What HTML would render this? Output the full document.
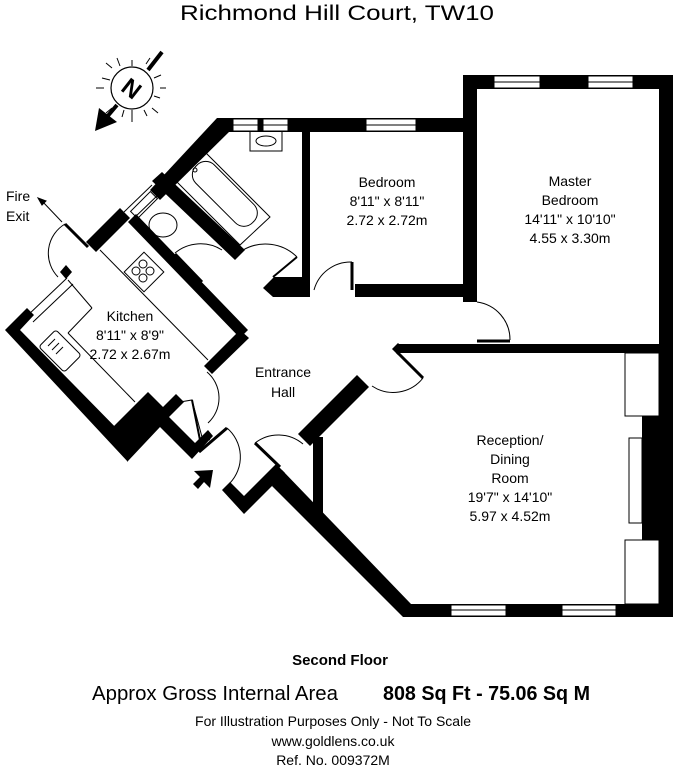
<!DOCTYPE html>
<html><head><meta charset="utf-8"><style>
html,body{margin:0;padding:0;background:#fff;}
svg{display:block;}
text{font-family:"Liberation Sans",Arial,sans-serif;fill:#000;}
</style></head><body>
<svg width="673" height="766" viewBox="0 0 673 766" xmlns="http://www.w3.org/2000/svg">
<rect width="673" height="766" fill="#fff"/>
<text x="337" y="20" font-size="21" text-anchor="middle" textLength="314" lengthAdjust="spacingAndGlyphs">Richmond Hill Court, TW10</text>

<!-- compass -->
<g stroke="#000" fill="none" stroke-width="1.2">
<circle cx="132" cy="88" r="21"/>
<line x1="162" y1="52" x2="148" y2="70" stroke-width="4"/>
<line x1="117" y1="105" x2="106" y2="118" stroke-width="4"/>
<g stroke-width="1">
<line x1="132" y1="60" x2="132" y2="66"/><line x1="132" y1="110" x2="132" y2="122"/>
<line x1="104" y1="88" x2="96" y2="88"/><line x1="160" y1="88" x2="166" y2="88"/>
<line x1="112" y1="68" x2="106" y2="63"/><line x1="152" y1="108" x2="158" y2="113"/>
<line x1="112" y1="108" x2="106" y2="113"/><line x1="146" y1="64" x2="150" y2="58"/>
<line x1="120" y1="66" x2="117" y2="58"/><line x1="144" y1="110" x2="147" y2="116"/>
<line x1="110" y1="80" x2="102" y2="78"/><line x1="154" y1="96" x2="160" y2="98"/>
<line x1="154" y1="78" x2="161" y2="75"/><line x1="124" y1="110" x2="122" y2="117"/>
</g>
</g>
<polygon points="95,131 99,108 117,122" fill="#000"/>
<text x="132" y="97" font-size="24" text-anchor="middle" transform="rotate(38 132 88)" font-weight="bold">N</text>

<!-- walls -->
<g fill="#000">
<rect x="463" y="75" width="210" height="14"/>
<rect x="659" y="75" width="14" height="542"/>
<rect x="463" y="75" width="14" height="227"/>
<rect x="217" y="118" width="253" height="14"/>
<rect x="302" y="118" width="8" height="172"/>
<rect x="355" y="284" width="115" height="13"/>
<rect x="398" y="344" width="265" height="9"/>
<polygon points="392,349 398,343 404,349 398,355"/>
<rect x="403" y="604" width="270" height="13"/>
<rect x="642" y="416" width="31" height="124"/>
<rect x="313" y="437" width="10" height="78"/>
<polygon points="272,486 282,470 411,604 411,617 403,617"/>
<polygon points="357,375 369,387 310,446 298,434"/>
<polygon points="222,490 230,482 244,496 276,464 285,473 244,514"/>
<polygon points="217,118 230,118 230,131 160,200 150,190"/>
<polygon points="152,181 162,172 245,250 235,260"/>
<polygon points="263,288 274,277 310,277 310,297 273,297"/>
<polygon points="120,208 130,218 96,252 86,242"/>
<polygon points="128,222 136,214 248,330 240,338"/>
<polygon points="240,330 249,338 212,374 204,366"/>
<polygon points="5,330 27,308 34,315 20,330 128,440 128,462"/>
<polygon points="60,272 66,265 72,272 66,279"/>
<polygon points="113,427 148,392 163,407 176,394 184,402 169,417 195,443 208,430 213,436 192,459 160,427 128,461"/>
</g>

<!-- windows -->
<g fill="#fff" stroke="#000" stroke-width="1">
<rect x="494" y="76" width="46" height="12"/><line x1="494" y1="82" x2="540" y2="82"/>
<rect x="588" y="76" width="45" height="12"/><line x1="588" y1="82" x2="633" y2="82"/>
<rect x="366" y="119" width="50" height="12"/><line x1="366" y1="125" x2="416" y2="125"/>
<rect x="233" y="119" width="25" height="12"/><line x1="233" y1="125" x2="258" y2="125"/>
<rect x="263" y="119" width="25" height="12"/><line x1="263" y1="125" x2="288" y2="125"/>
<rect x="451" y="605" width="55" height="11"/><line x1="451" y1="610" x2="506" y2="610"/>
<rect x="562" y="605" width="54" height="11"/><line x1="562" y1="610" x2="616" y2="610"/>
<rect x="625" y="353" width="34" height="63"/>
<rect x="629" y="438" width="13" height="85"/>
<rect x="625" y="540" width="34" height="64"/>
</g>
<g stroke="#000" stroke-width="1" fill="none">
<line x1="152" y1="185" x2="124" y2="212"/><line x1="160" y1="193" x2="132" y2="220"/>
<line x1="67" y1="278" x2="27" y2="316"/><line x1="73" y1="284" x2="33" y2="322"/>
<polygon points="203,150 270,217 240,245 173,178"/>
<rect x="186" y="178" width="80" height="26" rx="12" transform="rotate(45 222 191)"/>
<circle cx="195" cy="170" r="2"/>
<rect x="250" y="131" width="32" height="20"/>
<ellipse cx="266" cy="141" rx="10" ry="5"/>
<rect x="130" y="200" width="28" height="10" transform="rotate(-45 144 205)"/>
<ellipse cx="163" cy="225" rx="14" ry="12"/>
<rect x="130" y="258" width="28" height="28" transform="rotate(45 144 272)"/>
<circle cx="143" cy="264" r="4"/><circle cx="136" cy="271" r="4"/><circle cx="150" cy="271" r="4"/><circle cx="143" cy="278" r="4"/>
<!-- kitchen counters -->
<line x1="100" y1="250" x2="208" y2="360"/>
<line x1="68" y1="280" x2="92" y2="308"/>
<line x1="92" y1="308" x2="68" y2="333"/>
<line x1="68" y1="333" x2="135" y2="402"/>
<!-- sink -->
<rect x="42" y="339" width="36" height="24" rx="3" transform="rotate(45 60 351)"/>
<line x1="48" y1="346" x2="55" y2="339"/><line x1="52" y1="350" x2="59" y2="343"/><line x1="56" y1="354" x2="63" y2="347"/>
<!-- fire exit door -->
<line x1="65" y1="224" x2="88" y2="247" stroke-width="3"/>
<path d="M65,224 A34,34 0 0 0 58,277"/>
<line x1="42" y1="201" x2="62" y2="222"/>
<polygon points="38,198 46,201 42,205" fill="#000"/>
<!-- bathroom doors -->
<path d="M175,253 A40,40 0 0 1 222,250"/>
<line x1="175" y1="254" x2="202" y2="282" stroke-width="3"/>
<path d="M243,250 A45,45 0 0 1 297,257"/>
<line x1="297" y1="257" x2="273" y2="277" stroke-width="2"/>
<line x1="352" y1="262" x2="352" y2="290" stroke-width="3"/>
<path d="M352,262 A38,38 0 0 0 314,290"/>
<line x1="477" y1="341" x2="510" y2="341" stroke-width="3"/>
<path d="M510,340 A38,38 0 0 0 477,302"/>
<line x1="397" y1="352" x2="423" y2="378" stroke-width="3"/>
<path d="M423,378 A38,38 0 0 1 372,386"/>
<path d="M207,372 A34,34 0 0 1 208,423"/>
<polyline points="180,402 192,400 202,437 210,440"/>
<line x1="192" y1="400" x2="200" y2="440" stroke-width="2"/>
<line x1="199" y1="452" x2="227" y2="428" stroke-width="3"/>
<path d="M227,428 A38,38 0 0 1 230,483"/>
<line x1="255" y1="443" x2="280" y2="467" stroke-width="3"/>
<path d="M255,443 A38,38 0 0 1 303,444"/>
</g>
<polygon points="213,470 210,488 204,482 198,489 193,484 200,477 194,471" fill="#000"/>

<g font-size="14" text-anchor="middle">
<text x="387" y="187">Bedroom</text>
<text x="387" y="206">8'11" x 8'11"</text>
<text x="387" y="225">2.72 x 2.72m</text>
<text x="570" y="186">Master</text>
<text x="570" y="205">Bedroom</text>
<text x="570" y="224">14'11" x 10'10"</text>
<text x="570" y="243">4.55 x 3.30m</text>
<text x="510" y="445">Reception/</text>
<text x="510" y="464">Dining</text>
<text x="510" y="483">Room</text>
<text x="510" y="502">19'7" x 14'10"</text>
<text x="510" y="521">5.97 x 4.52m</text>
<text x="130" y="321">Kitchen</text>
<text x="130" y="340">8'11" x 8'9"</text>
<text x="130" y="359">2.72 x 2.67m</text>
<text x="283" y="377">Entrance</text>
<text x="283" y="397">Hall</text>
</g>
<text x="6" y="201" font-size="14">Fire</text>
<text x="6" y="221" font-size="14">Exit</text>

<text x="340" y="665" font-size="15" font-weight="bold" text-anchor="middle">Second Floor</text>
<text x="92" y="700" font-size="20" textLength="246" lengthAdjust="spacingAndGlyphs">Approx Gross Internal Area</text>
<text x="383" y="700" font-size="20" font-weight="bold" textLength="207" lengthAdjust="spacingAndGlyphs">808 Sq Ft  -  75.06 Sq M</text>
<g font-size="14" text-anchor="middle">
<text x="333" y="726">For Illustration Purposes Only - Not To Scale</text>
<text x="333" y="746">www.goldlens.co.uk</text>
<text x="333" y="765">Ref. No. 009372M</text>
</g>
</svg>
</body></html>
